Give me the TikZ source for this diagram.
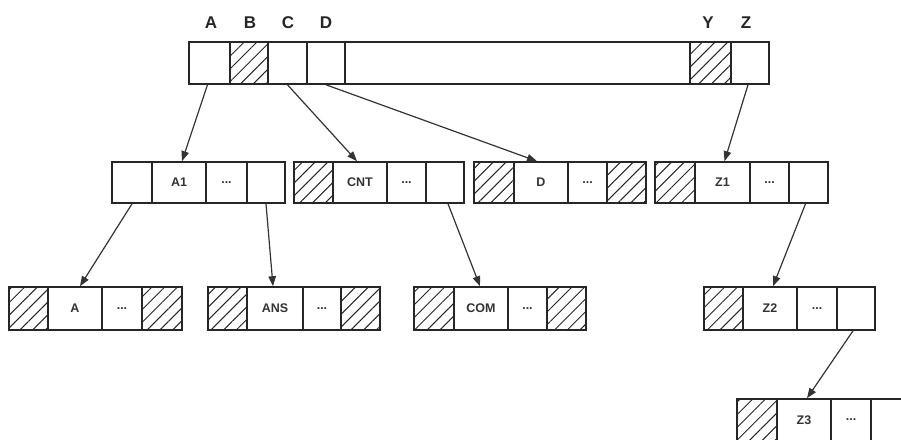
\documentclass[tikz,border=0pt]{standalone}
\usepackage{fontspec}
\setmainfont{Liberation Sans}
\usetikzlibrary{arrows.meta,patterns.meta}

\tikzset{
  cell/.style={draw=black!85, line width=1.6pt, inner sep=0pt,
    font=\fontsize{12.5}{13}\selectfont\bfseries, text=black!80},
  hatched/.style={cell, pattern={Lines[angle=45,distance=9pt,line width=1pt]}, pattern color=black!85},
  lbl/.style={inner sep=0pt, anchor=base, font=\fontsize{17}{18}\selectfont\bfseries, text=black!85},
  link/.style={draw=black!80, line width=1.2pt, -{Triangle[length=10pt,width=7.5pt]}}
}

% one rectangular cell from its left/right/top/bottom edges
\newcommand\mkcell[7]{%
  \pgfmathsetmacro\cx{(#3+#4)/2}\pgfmathsetmacro\cy{(#5+#6)/2}%
  \pgfmathsetmacro\cw{#4-#3}\pgfmathsetmacro\ch{#6-#5}%
  \node[#1, minimum width=\cw pt, minimum height=\ch pt] (#2) at (\cx,\cy) {#7};%
}

\begin{document}
\begin{tikzpicture}[x=1pt,y=-1pt]
\useasboundingbox (0,0) rectangle (901,439);
\begin{scope}
\clip (0,0) rectangle (901,439);

% root array
\mkcell{cell}{ta}{189}{230}{42}{84}{}
\mkcell{hatched}{tb}{230}{268}{42}{84}{}
\mkcell{cell}{tc}{268}{307}{42}{84}{}
\mkcell{cell}{td}{307}{345}{42}{84}{}
\mkcell{cell}{tmid}{345}{690}{42}{84}{}
\mkcell{hatched}{ty}{690}{731}{42}{84}{}
\mkcell{cell}{tz}{731}{769}{42}{84}{}

\node[lbl] (la) at (211,28) {A};
\node[lbl] (lb) at (250,28) {B};
\node[lbl] (lc) at (288,28) {C};
\node[lbl] (ld) at (326,28) {D};
\node[lbl] (ly) at (708,28) {Y};
\node[lbl] (lz) at (746,28) {Z};

% second level
\mkcell{cell}{m1a}{112}{152}{162}{203}{}
\mkcell{cell}{m1b}{152}{206}{162}{203}{A1}
\mkcell{cell}{m1c}{206}{247}{162}{203}{...}
\mkcell{cell}{m1d}{247}{285}{162}{203}{}

\mkcell{hatched}{m2a}{294}{333}{162}{203}{}
\mkcell{cell}{m2b}{333}{387}{162}{203}{CNT}
\mkcell{cell}{m2c}{387}{426}{162}{203}{...}
\mkcell{cell}{m2d}{426}{464}{162}{203}{}

\mkcell{hatched}{m3a}{474}{514}{162}{203}{}
\mkcell{cell}{m3b}{514}{568}{162}{203}{D}
\mkcell{cell}{m3c}{568}{607}{162}{203}{...}
\mkcell{hatched}{m3d}{607}{646}{162}{203}{}

\mkcell{hatched}{m4a}{655}{695}{162}{203}{}
\mkcell{cell}{m4b}{695}{750}{162}{203}{Z1}
\mkcell{cell}{m4c}{750}{789}{162}{203}{...}
\mkcell{cell}{m4d}{789}{828}{162}{203}{}

% third level
\mkcell{hatched}{b1a}{9}{48}{287}{330}{}
\mkcell{cell}{b1b}{48}{102}{287}{330}{A}
\mkcell{cell}{b1c}{102}{142}{287}{330}{...}
\mkcell{hatched}{b1d}{142}{182}{287}{330}{}

\mkcell{hatched}{b2a}{208}{247}{287}{330}{}
\mkcell{cell}{b2b}{247}{303}{287}{330}{ANS}
\mkcell{cell}{b2c}{303}{341}{287}{330}{...}
\mkcell{hatched}{b2d}{341}{380}{287}{330}{}

\mkcell{hatched}{b3a}{414}{454}{287}{330}{}
\mkcell{cell}{b3b}{454}{508}{287}{330}{COM}
\mkcell{cell}{b3c}{508}{547}{287}{330}{...}
\mkcell{hatched}{b3d}{547}{586}{287}{330}{}

\mkcell{hatched}{b4a}{704}{743}{287}{330}{}
\mkcell{cell}{b4b}{743}{797}{287}{330}{Z2}
\mkcell{cell}{b4c}{797}{837}{287}{330}{...}
\mkcell{cell}{b4d}{837}{875}{287}{330}{}

% fourth level
\mkcell{hatched}{z3a}{737}{777}{399}{441}{}
\mkcell{cell}{z3b}{777}{831}{399}{441}{Z3}
\mkcell{cell}{z3c}{831}{871}{399}{441}{...}
\mkcell{cell}{z3d}{871}{911}{399}{441}{}

% pointers
\draw[link] ([xshift=-2pt]ta.south) -- ([xshift=3pt]m1b.north);
\draw[link] (tc.south) -- ([xshift=-3pt]m2b.north);
\draw[link] (td.south) -- ([xshift=-4pt]m3b.north);
\draw[link] ([xshift=-2pt]tz.south) -- ([xshift=2pt]m4b.north);
\draw[link] (m1a.south) -- ([xshift=5pt]b1b.north);
\draw[link] (m1d.south) -- ([xshift=-2pt]b2b.north);
\draw[link] ([xshift=3pt]m2d.south) -- ([xshift=-1pt]b3b.north);
\draw[link] ([xshift=-3pt]m4d.south) -- ([xshift=3pt]b4b.north);
\draw[link] ([xshift=-3pt]b4d.south) -- ([xshift=3pt]z3b.north);
\end{scope}
\end{tikzpicture}
\end{document}
